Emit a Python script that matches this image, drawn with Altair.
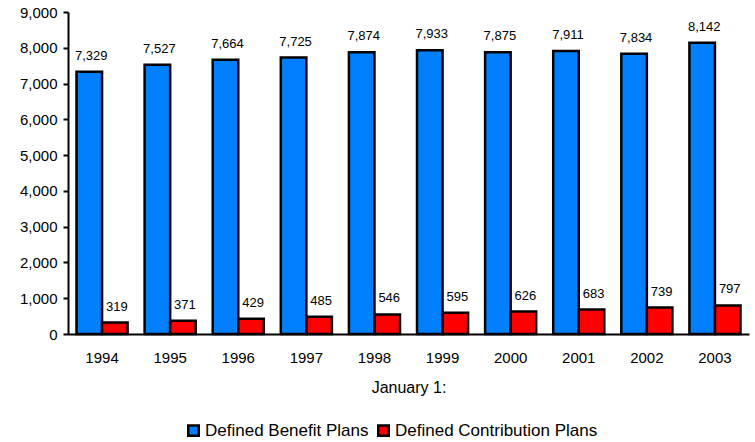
import altair as alt
import pandas as pd

years = ["1994", "1995", "1996", "1997", "1998", "1999", "2000", "2001", "2002", "2003"]
series = ["Defined Benefit Plans", "Defined Contribution Plans"]
db_values = [7329, 7527, 7664, 7725, 7874, 7933, 7875, 7911, 7834, 8142]
dc_values = [319, 371, 429, 485, 546, 595, 626, 683, 739, 797]
colors = ["#0080FF", "#FF0000"]

rows = []
for y, a, b in zip(years, db_values, dc_values):
    rows.append({"year": y, "series": series[0], "value": a})
    rows.append({"year": y, "series": series[1], "value": b})
df = pd.DataFrame(rows)

FONT = "Liberation Sans"

base = alt.Chart(df).encode(
    x=alt.X(
        "year:N",
        sort=years,
        scale=alt.Scale(paddingInner=0.25, paddingOuter=0.125),
        axis=alt.Axis(
            title="January 1:",
            labelAngle=0,
            ticks=False,
            labelPadding=16,
            titlePadding=14,
            labelFontSize=15,
            titleFontSize=16,
            titleFontWeight="normal",
        ),
    ),
    xOffset=alt.XOffset("series:N", sort=series, scale=alt.Scale(domain=series, paddingInner=0, paddingOuter=0)),
    y=alt.Y(
        "value:Q",
        scale=alt.Scale(domain=[0, 9000], nice=False),
        axis=alt.Axis(
            title=None,
            format=",.0f",
            values=list(range(0, 9001, 1000)),
            tickSize=5,
            tickWidth=2,
            tickColor="black",
            labelPadding=6,
            labelFontSize=15,
            grid=False,
        ),
    ),
)

bars = base.mark_bar(stroke="black", strokeWidth=2.5, strokeOpacity=1).encode(
    fill=alt.Fill(
        "series:N",
        sort=series,
        scale=alt.Scale(domain=series, range=colors),
        legend=alt.Legend(
            title=None,
            orient="none",
            direction="horizontal",
            legendX=117,
            legendY=410,
            symbolType="square",
            symbolSize=110,
            symbolStrokeColor="black",
            symbolStrokeWidth=2.5,
            symbolOpacity=1,
            labelFontSize=17,
            labelOffset=3,
            labelLimit=0,
            columnPadding=4,
            labelColor="black",
        ),
    ),
    stroke=alt.value("black"),
    strokeWidth=alt.value(2.5),
)

text = base.mark_text(baseline="bottom", dy=-9, dx=2, fontSize=13, font=FONT, color="black").encode(
    text=alt.Text("value:Q", format=",.0f")
)

chart = (
    alt.layer(bars, text)
    .properties(
        width=681,
        height=322,
        autosize=alt.AutoSizeParams(type="none"),
        padding={"left": 68, "top": 12, "right": 6, "bottom": 108},
        background="white",
    )
    .configure_view(stroke=None)
    .configure_axis(
        labelFont=FONT,
        titleFont=FONT,
        labelColor="black",
        titleColor="black",
        domainColor="black",
        domainWidth=2,
    )
    .configure_legend(labelFont=FONT)
)

chart.save("out.html", embed_options={"renderer": "svg", "actions": False})
